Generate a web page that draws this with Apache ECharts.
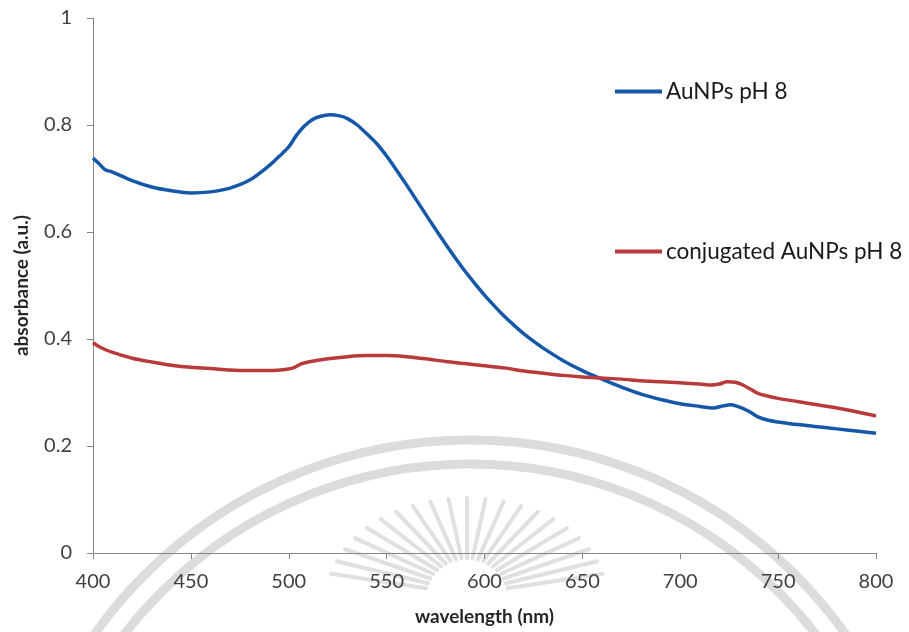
<!DOCTYPE html>
<html>
<head>
<meta charset="utf-8">
<script src="https://cdn.jsdelivr.net/npm/echarts@6/dist/echarts.min.js"></script>
<style>
  html, body { margin: 0; padding: 0; background: #ffffff; }
  #chart { width: 909px; height: 632px; }
</style>
</head>
<body>
<div id="chart"></div>
<script>
// UV-Vis absorbance spectra of gold nanoparticles
const seriesNames = ['AuNPs pH 8', 'conjugated AuNPs pH 8'];

const auWavelength = [400, 403, 406, 410, 420, 430, 440, 450, 460, 470, 480, 490, 495, 500, 504, 508, 512, 516, 521, 526, 530, 535, 540, 545, 550, 555, 560, 565, 570, 575, 580, 585, 590, 595, 600, 605, 610, 615, 620, 625, 630, 640, 650, 660, 670, 680, 690, 700, 710, 717, 722, 726, 730, 735, 740, 745, 750, 760, 770, 780, 790, 800];
const auAbsorbance = [0.738, 0.728, 0.717, 0.712, 0.696, 0.684, 0.677, 0.673, 0.675, 0.682, 0.697, 0.724, 0.741, 0.759, 0.781, 0.798, 0.810, 0.816, 0.819, 0.817, 0.812, 0.800, 0.783, 0.765, 0.742, 0.716, 0.689, 0.661, 0.633, 0.605, 0.578, 0.552, 0.527, 0.504, 0.482, 0.462, 0.443, 0.426, 0.410, 0.396, 0.383, 0.360, 0.341, 0.325, 0.310, 0.297, 0.287, 0.279, 0.274, 0.271, 0.275, 0.277, 0.273, 0.265, 0.254, 0.248, 0.245, 0.240, 0.236, 0.232, 0.228, 0.224];

const conjWavelength = [400, 403, 407, 410, 420, 430, 440, 450, 460, 470, 480, 490, 500, 503, 506, 510, 520, 530, 540, 550, 560, 570, 580, 590, 600, 610, 620, 630, 640, 650, 660, 670, 680, 690, 700, 710, 716, 720, 724, 728, 732, 736, 740, 745, 750, 760, 770, 780, 790, 800];
const conjAbsorbance = [0.393, 0.386, 0.379, 0.375, 0.364, 0.357, 0.351, 0.347, 0.345, 0.342, 0.341, 0.341, 0.344, 0.347, 0.353, 0.357, 0.363, 0.367, 0.369, 0.369, 0.367, 0.363, 0.358, 0.354, 0.350, 0.346, 0.340, 0.336, 0.332, 0.329, 0.327, 0.325, 0.322, 0.320, 0.318, 0.316, 0.314, 0.316, 0.320, 0.319, 0.314, 0.306, 0.298, 0.293, 0.289, 0.283, 0.277, 0.271, 0.264, 0.256];

const xTicks = { min: 400, max: 800, step: 50 };
const yTicks = { min: 0, max: 1, step: 0.2 };

const pairs = (xs, ys) => xs.map((x, i) => [x, ys[i]]);

const FONT = 'Lato, "Open Sans", sans-serif';
const TEXT = '#404040';
const AXIS = '#868686';

// faint circular seal in the background
const sealCx = 470, sealCy = 900;
const watermark = [
  { type: 'circle', z: -10, silent: true, shape: { cx: sealCx, cy: sealCy, r: 460 },
    style: { fill: 'none', stroke: '#dcdcdc', lineWidth: 9 } },
  { type: 'circle', z: -10, silent: true, shape: { cx: sealCx, cy: sealCy, r: 436 },
    style: { fill: 'none', stroke: '#dcdcdc', lineWidth: 9 } }
];
const rayCx = 467, rayCy = 598;
for (let a = 14; a <= 166; a += 7.6) {
  const t = a * Math.PI / 180;
  watermark.push({
    type: 'line', z: -10, silent: true,
    shape: {
      x1: rayCx + Math.cos(t) * 42, y1: rayCy - Math.sin(t) * 40,
      x2: rayCx + Math.cos(t) * 140, y2: rayCy - Math.sin(t) * 100
    },
    style: { stroke: '#e0e0e0', lineWidth: 4, lineCap: 'round' }
  });
}

const legendText = { fontFamily: FONT, fontSize: 22.5, color: '#1a1a1a', padding: [0, 0, 0, -1] };

const chart = echarts.init(document.getElementById('chart'), null, { renderer: 'canvas' });

chart.setOption({
  animation: false,
  backgroundColor: '#ffffff',
  graphic: watermark,
  grid: { left: 93, right: 33, top: 18, bottom: 79, containLabel: false },
  legend: [
    {
      data: [seriesNames[0]], left: 610, top: 75, orient: 'vertical',
      icon: 'rect', itemWidth: 47, itemHeight: 4, itemGap: 0,
      textStyle: legendText
    },
    {
      data: [seriesNames[1]], left: 610, top: 235, orient: 'vertical',
      icon: 'rect', itemWidth: 47, itemHeight: 4, itemGap: 0,
      textStyle: legendText
    }
  ],
  xAxis: {
    type: 'value', min: xTicks.min, max: xTicks.max, interval: xTicks.step,
    name: 'wavelength (nm)', nameLocation: 'middle', nameGap: 54,
    nameTextStyle: { fontFamily: FONT, fontSize: 19, fontWeight: 'bold', color: '#262626' },
    axisLine: { show: true, lineStyle: { color: AXIS, width: 1 } },
    axisTick: { show: true, length: 6, lineStyle: { color: AXIS } },
    axisLabel: { margin: 19, fontFamily: FONT, fontSize: 20, color: TEXT },
    splitLine: { show: false }
  },
  yAxis: {
    type: 'value', min: yTicks.min, max: yTicks.max, interval: yTicks.step,
    name: 'absorbance (a.u.)', nameLocation: 'middle', nameGap: 62,
    nameTextStyle: { fontFamily: FONT, fontSize: 19, fontWeight: 'bold', color: '#262626' },
    axisLine: { show: true, lineStyle: { color: AXIS, width: 1 } },
    axisTick: { show: true, length: 6, lineStyle: { color: AXIS } },
    axisLabel: { margin: 21, fontFamily: FONT, fontSize: 20, color: TEXT },
    splitLine: { show: false }
  },
  series: [
    {
      name: seriesNames[0], type: 'line', data: pairs(auWavelength, auAbsorbance),
      showSymbol: false, smooth: 0.3, color: '#1558AA',
      lineStyle: { width: 3.5, color: '#1558AA' }
    },
    {
      name: seriesNames[1], type: 'line', data: pairs(conjWavelength, conjAbsorbance),
      showSymbol: false, smooth: 0.3, color: '#B83A3A',
      lineStyle: { width: 3.5, color: '#B83A3A' }
    }
  ]
});
</script>
</body>
</html>
